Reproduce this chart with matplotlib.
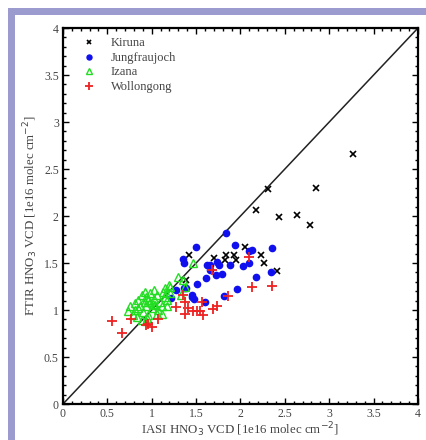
import matplotlib.pyplot as plt
from matplotlib.patches import Rectangle
from matplotlib.ticker import MultipleLocator, FormatStrFormatter

plt.rcParams['font.family'] = ['Liberation Serif', 'DejaVu Serif']

kiruna_x = [3.27, 2.85, 2.31, 2.18, 2.43, 2.64, 2.78, 2.05, 2.23, 2.26, 2.41,
            1.84, 1.93, 1.95, 1.82, 1.70, 1.42, 1.39]
kiruna_y = [2.66, 2.30, 2.29, 2.06, 1.99, 2.01, 1.90, 1.67, 1.58, 1.50, 1.42,
            1.59, 1.59, 1.53, 1.53, 1.55, 1.59, 1.32]

jungfrau_x = [1.84, 1.50, 1.94, 2.10, 2.13, 2.35, 1.35, 1.36, 1.62, 1.66, 1.74,
              1.76, 1.88, 2.03, 2.10, 1.66, 1.61, 1.72, 1.79, 1.51, 2.18, 2.34,
              1.96, 1.81, 1.45, 1.48, 1.60, 1.39, 1.22, 1.27, 1.36, 1.45]
jungfrau_y = [1.82, 1.67, 1.69, 1.63, 1.64, 1.66, 1.54, 1.50, 1.48, 1.48, 1.51,
              1.48, 1.48, 1.47, 1.50, 1.43, 1.34, 1.37, 1.38, 1.28, 1.35, 1.40,
              1.22, 1.15, 1.14, 1.12, 1.09, 1.23, 1.13, 1.21, 1.23, 1.16]

izana_x = [0.73, 0.75, 0.81, 0.81, 0.85, 0.87, 0.89, 0.90, 0.92, 0.94, 0.94,
           0.96, 0.98, 0.98, 1.00, 1.02, 1.03, 1.04, 1.06, 1.07, 1.09, 1.11,
           1.13, 1.15, 1.15, 1.17, 1.19, 1.21, 0.89, 0.93, 0.95, 0.83, 0.79,
           0.96, 0.85, 0.92, 1.01, 1.06, 1.11, 1.17, 1.47, 1.35, 1.33, 1.21,
           1.16, 1.30, 1.38]
izana_y = [0.99, 1.04, 1.07, 1.00, 1.11, 1.04, 1.16, 0.98, 1.09, 1.14, 1.04,
           0.95, 1.18, 1.09, 1.02, 1.12, 1.21, 1.05, 1.16, 1.00, 1.09, 1.04,
           1.19, 1.14, 1.23, 1.11, 1.27, 1.18, 0.89, 0.88, 0.91, 0.93, 0.95,
           1.11, 1.02, 1.19, 1.06, 0.96, 0.96, 1.04, 1.50, 1.32, 1.16, 1.25,
           1.18, 1.35, 1.25]

wollongong_x = [0.55, 0.66, 0.77, 0.94, 1.00, 1.07, 1.27, 1.37, 1.37, 1.35,
                1.41, 1.46, 1.51, 1.54, 1.58, 1.57, 1.69, 1.74, 1.86, 2.10,
                1.68, 2.13, 2.36, 0.96]
wollongong_y = [0.88, 0.76, 0.90, 0.84, 0.82, 0.90, 1.03, 0.96, 1.09, 1.16,
                1.02, 0.99, 0.99, 0.99, 0.95, 1.09, 1.01, 1.04, 1.15, 1.56,
                1.43, 1.24, 1.26, 0.85]

W, H = 427, 440
fig = plt.figure(figsize=(W / 100, H / 100), dpi=100)
fig.patch.set_facecolor('white')

# lavender frame on top and left
fig.patches.append(Rectangle((8 / W, 0), 1, 1 - 8 / H, transform=fig.transFigure,
                             facecolor='#9b9bcf', edgecolor='none', zorder=-5))
fig.patches.append(Rectangle((15 / W, 0), 1, 1 - 15 / H, transform=fig.transFigure,
                             facecolor='white', edgecolor='none', zorder=-4))

ax = fig.add_axes([63 / W, 36 / H, 355 / W, 376 / H])
ax.set_zorder(2)

ax.plot([0, 4], [0, 4], color='#222222', lw=1.1, zorder=1)
ax.plot(kiruna_x, kiruna_y, 'x', color='black', ms=4, mew=1.2, label='Kiruna')
ax.plot(jungfrau_x, jungfrau_y, 'o', color='#1010ee', ms=4.5, mec='#1010ee',
        label='Jungfraujoch')
ax.plot(izana_x, izana_y, '^', mfc='none', mec='#22dd22', ms=6, mew=1.0,
        label='Izana')
ax.plot(wollongong_x, wollongong_y, '+', color='#ee2222', ms=6.5, mew=1.3,
        label='Wollongong')

ax.set_xlim(0, 4)
ax.set_ylim(0, 4)
for axis in (ax.xaxis, ax.yaxis):
    axis.set_major_locator(MultipleLocator(0.5))
    axis.set_minor_locator(MultipleLocator(0.1))
    axis.set_major_formatter(FormatStrFormatter('%g'))
ax.tick_params(which='both', direction='in', top=True, right=True,
               labelsize=8.5, labelcolor='#444444', pad=3)
ax.tick_params(which='major', length=4, width=1)
ax.tick_params(which='minor', length=2.5, width=1)
for s in ax.spines.values():
    s.set_linewidth(1.6)

ax.set_xlabel('IASI HNO$_3$ VCD [1e16 molec cm$^{-2}$]', fontsize=9.3,
              color='#444444', labelpad=0)
ax.set_ylabel('FTIR HNO$_3$ VCD [1e16 molec cm$^{-2}$]', fontsize=9.3,
              color='#444444', labelpad=3)

leg = ax.legend(loc='upper left', bbox_to_anchor=(0.02, 1.0), frameon=False,
                fontsize=9, handletextpad=0.9, labelspacing=0.2,
                borderaxespad=0.35, handlelength=1.6, markerscale=0.8)
for t in leg.get_texts():
    t.set_color('#444444')

fig.savefig('out.png', dpi=100)
